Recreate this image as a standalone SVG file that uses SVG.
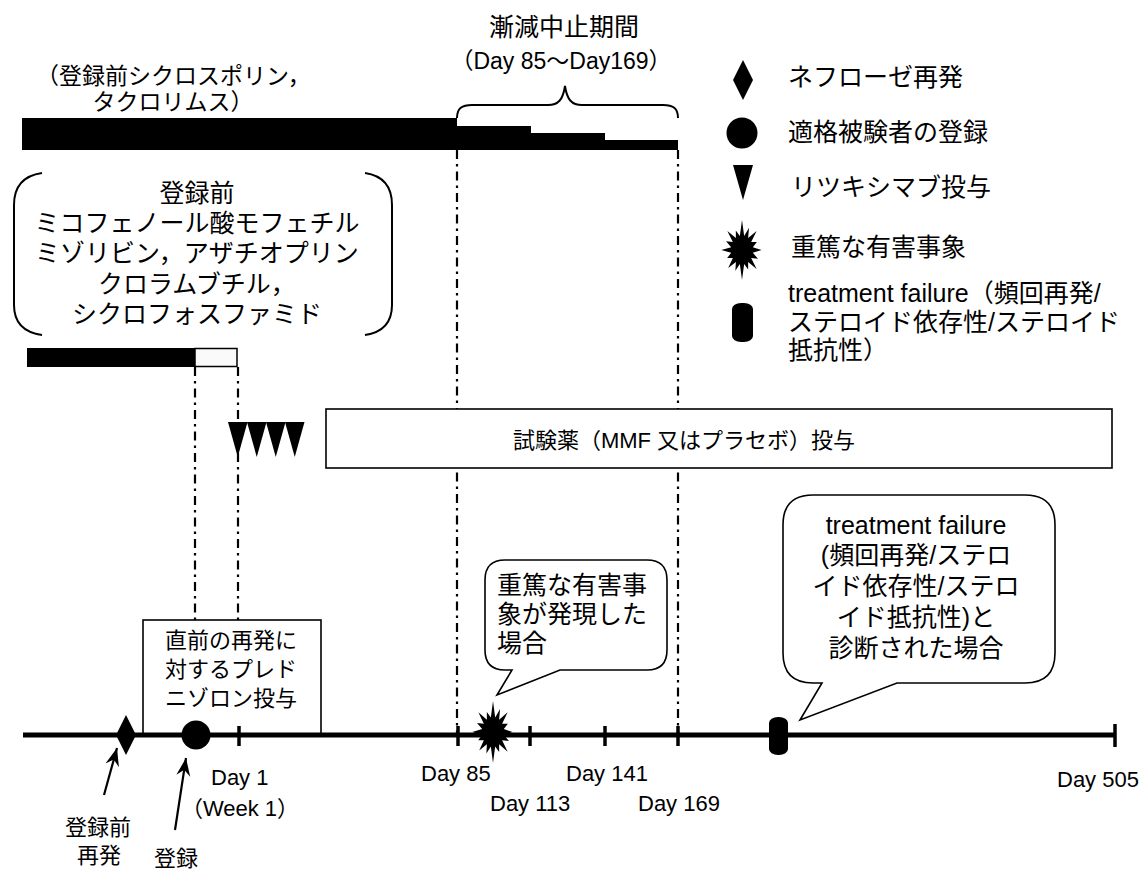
<svg xmlns="http://www.w3.org/2000/svg" width="1143" height="872" viewBox="0 0 1143 872">
<style>
text{font-family:'Liberation Sans','Noto Sans CJK JP',sans-serif;fill:#000}
.t25{font-size:25px}
.t23{font-size:23px}
.t22{font-size:22px}
.mid{text-anchor:middle}
.dd{stroke:#000;stroke-width:2.2;stroke-dasharray:9 5 2.5 5;fill:none}
.ln{stroke:#000;fill:none}
.blk{fill:#000}
.box{fill:#fff;stroke:#000;stroke-width:1.6}
.tick{stroke:#000;stroke-width:3.5}
</style>
<defs>
<path id="star" d="M0,-50 L4.7,-23.5 L15.3,-37 L13.3,-19.9 L31.8,-31.8 L19.9,-13.3 L32.3,-13.4 L23.5,-4.7 L42.5,0 L23.5,4.7 L34.7,14.4 L19.9,13.3 L31.8,31.8 L13.3,19.9 L13.4,32.3 L4.7,23.5 L0,50 L-4.7,23.5 L-14.4,34.7 L-13.3,19.9 L-30,30 L-19.9,13.3 L-32.3,13.4 L-23.5,4.7 L-45,0 L-23.5,-4.7 L-34.7,-14.4 L-19.9,-13.3 L-31.8,-31.8 L-13.3,-19.9 L-13.4,-32.3 L-4.7,-23.5 Z"/>
<marker id="arr" viewBox="-18 -8 20 16" refX="0" refY="0" markerWidth="20" markerHeight="16" markerUnits="userSpaceOnUse" orient="auto">
<path d="M0,0 L-18,-7 L-12,0 L-18,7 Z" fill="#000"/>
</marker>
</defs>

<g id="connectors">
<line class="dd" x1="457" y1="150" x2="457" y2="735"/>
<line class="dd" x1="678" y1="150" x2="678" y2="735"/>
<line class="dd" x1="195" y1="367" x2="195" y2="620"/>
<line class="dd" x1="238" y1="367" x2="238" y2="620"/>
<line class="ln" x1="104" y1="795" x2="117" y2="748" stroke-width="2.2" marker-end="url(#arr)"/>
<line class="ln" x1="175" y1="830" x2="186" y2="758" stroke-width="2.2" marker-end="url(#arr)"/>
</g>

<g id="top-labels">
<text class="t25 mid" x="564" y="36">漸減中止期間</text>
<text class="t23 mid" x="561" y="69">（Day 85〜Day169）</text>
<text class="t23" x="36" y="84">（登録前シクロスポリン，</text>
<text class="t23 mid" x="173" y="110">タクロリムス）</text>
<path class="ln" stroke-width="2" d="M457,118 C457,108 462,105 472,105 L548,105 C558,105 563,100 565,86 C567,100 572,105 582,105 L663,105 C673,105 678,108 678,118"/>
</g>

<g id="cyclosporine-bar">
<path class="blk" d="M22,118 L457,118 L457,126 L531,126 L531,133 L605,133 L605,140 L678,140 L678,150 L22,150 Z"/>
</g>

<g id="pre-drugs">
<path class="ln" stroke-width="2" d="M42,173 Q14,177 14,205 L14,305 Q14,331 42,335"/>
<path class="ln" stroke-width="2" d="M365,173 Q392,177 392,205 L392,305 Q392,331 365,335"/>
<text class="t25 mid" x="197" y="202">登録前</text>
<text class="t25 mid" x="197" y="232">ミコフェノール酸モフェチル</text>
<text class="t25 mid" x="197" y="262">ミゾリビン，アザチオプリン</text>
<text class="t25 mid" x="197" y="293">クロラムブチル，</text>
<text class="t25 mid" x="197" y="323">シクロフォスファミド</text>
</g>

<g id="pre-drug-bar">
<rect class="blk" x="27" y="348" width="168" height="19"/>
<rect x="195" y="348.5" width="42" height="18" fill="#fafafa" stroke="#000" stroke-width="1.5"/>
</g>

<g id="rituximab">
<polygon class="blk" points="228,422 247.5,422 237.75,457"/>
<polygon class="blk" points="247,422 266.5,422 256.75,457"/>
<polygon class="blk" points="266,422 285.5,422 275.75,457"/>
<polygon class="blk" points="285,422 304.5,422 294.75,457"/>
</g>

<g id="study-drug">
<rect class="box" x="326" y="409" width="786" height="59"/>
<text class="t22 mid" x="684" y="448">試験薬（MMF 又はプラセボ）投与</text>
</g>

<g id="legend">
<polygon class="blk" points="743,60 753,80 743,100 733,80"/>
<text class="t25" x="788" y="86">ネフローゼ再発</text>
<circle class="blk" cx="742" cy="133" r="15.5"/>
<text class="t25" x="788" y="141">適格被験者の登録</text>
<polygon class="blk" points="733,165 753,165 743,200"/>
<text class="t25" x="791" y="196">リツキシマブ投与</text>
<use href="#star" transform="translate(742,250) scale(0.46,0.6)"/>
<text class="t25" x="791" y="256">重篤な有害事象</text>
<rect class="blk" x="732" y="303" width="21" height="39" rx="9" ry="6"/>
<text class="t25" x="788" y="302">treatment failure（頻回再発/</text>
<text class="t25" x="788" y="331">ステロイド依存性/ステロイド</text>
<text class="t25" x="788" y="359">抵抗性）</text>
</g>

<g id="prednisolone">
<rect class="box" x="143" y="620" width="178" height="115"/>
<text class="t22 mid" x="231" y="648">直前の再発に</text>
<text class="t22 mid" x="231" y="677">対するプレド</text>
<text class="t22 mid" x="231" y="706">ニゾロン投与</text>
</g>

<g id="callout-sae">
<path class="box" d="M505,560 H647 Q667,560 667,580 V650 Q667,670 647,670 H560 L497,695 L512,670 H505 Q485,670 485,650 V580 Q485,560 505,560 Z"/>
<text class="t25" x="497" y="594">重篤な有害事</text>
<text class="t25" x="497" y="623">象が発現した</text>
<text class="t25" x="497" y="652">場合</text>
</g>

<g id="callout-tf">
<path class="box" d="M813,495 H1025 Q1055,495 1055,525 V653 Q1055,683 1025,683 H897 L800,720 L822,683 H813 Q783,683 783,653 V525 Q783,495 813,495 Z"/>
<text class="t25 mid" x="916" y="534">treatment failure</text>
<text class="t25 mid" x="916" y="564">(頻回再発/ステロ</text>
<text class="t25 mid" x="916" y="595">イド依存性/ステロ</text>
<text class="t25 mid" x="916" y="626">イド抵抗性)と</text>
<text class="t25 mid" x="916" y="657">診断された場合</text>
</g>

<g id="timeline">
<line class="ln" x1="23" y1="735" x2="1115" y2="735" stroke-width="5"/>
<line class="tick" x1="239" y1="726" x2="239" y2="746"/>
<line class="tick" x1="458" y1="726" x2="458" y2="746"/>
<line class="tick" x1="530" y1="726" x2="530" y2="746"/>
<line class="tick" x1="605" y1="726" x2="605" y2="746"/>
<line class="tick" x1="678" y1="726" x2="678" y2="746"/>
<line class="tick" x1="1115" y1="724" x2="1115" y2="747"/>
</g>

<g id="events">
<polygon class="blk" points="126,715 136,735 126,755 116,735"/>
<circle class="blk" cx="196" cy="735" r="14.5"/>
<use href="#star" transform="translate(493,732) scale(0.46,0.62)"/>
<rect class="blk" x="769" y="717" width="19" height="38" rx="9" ry="6"/>
</g>

<g id="day-labels">
<text class="t22" x="211" y="785">Day 1</text>
<text class="t22 mid" x="240" y="816">（Week 1）</text>
<text class="t22" x="421" y="781">Day 85</text>
<text class="t22" x="490" y="811">Day 113</text>
<text class="t22" x="566" y="781">Day 141</text>
<text class="t22" x="638" y="811">Day 169</text>
<text class="t22" x="1057" y="787">Day 505</text>
<text class="t22 mid" x="98" y="835">登録前</text>
<text class="t22 mid" x="99" y="863">再発</text>
<text class="t22 mid" x="176" y="866">登録</text>
</g>
</svg>
